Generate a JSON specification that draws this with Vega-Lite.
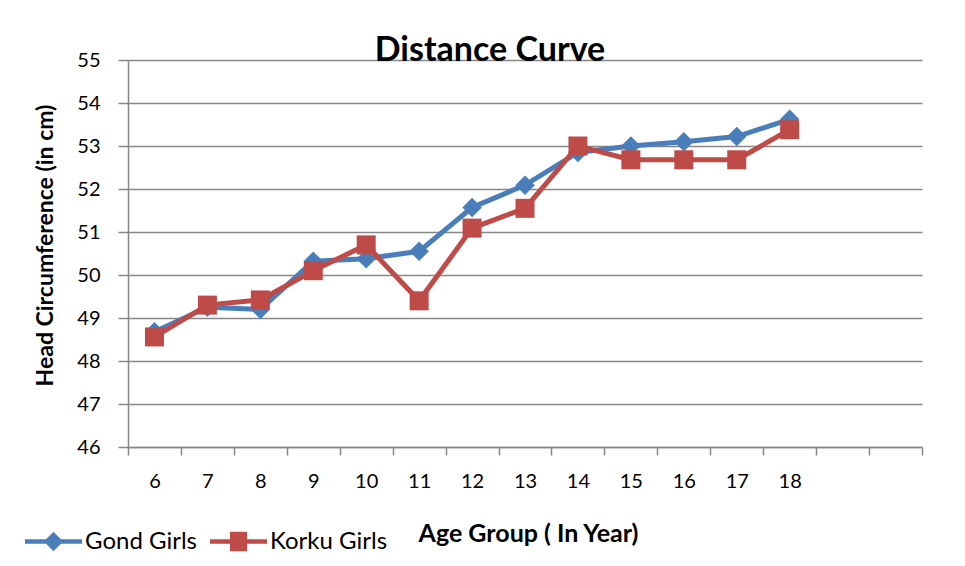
{
  "$schema": "https://vega.github.io/schema/vega-lite/v6.json",
  "autosize": "none",
  "width": 794,
  "height": 387,
  "padding": {"left": 128, "top": 60, "right": 43, "bottom": 119},
  "background": "white",
  "config": {
    "font": "Lato",
    "view": {"stroke": null},
    "axis": {"labelColor": "#000000", "titleColor": "#000000"}
  },
  "title": {
    "text": "Distance Curve",
    "font": "Lato",
    "fontSize": 34,
    "fontWeight": "bold",
    "color": "#000000",
    "anchor": "middle",
    "frame": "group",
    "dx": -35,
    "dy": 37,
    "baseline": "alphabetic",
    "offset": -8
  },
  "data": {
    "values": [
      {"age": 6, "series": "Gond Girls", "hc": 48.68},
      {"age": 7, "series": "Gond Girls", "hc": 49.25},
      {"age": 8, "series": "Gond Girls", "hc": 49.2},
      {"age": 9, "series": "Gond Girls", "hc": 50.32},
      {"age": 10, "series": "Gond Girls", "hc": 50.38},
      {"age": 11, "series": "Gond Girls", "hc": 50.55},
      {"age": 12, "series": "Gond Girls", "hc": 51.57},
      {"age": 13, "series": "Gond Girls", "hc": 52.09},
      {"age": 14, "series": "Gond Girls", "hc": 52.85},
      {"age": 15, "series": "Gond Girls", "hc": 53.0},
      {"age": 16, "series": "Gond Girls", "hc": 53.1},
      {"age": 17, "series": "Gond Girls", "hc": 53.22},
      {"age": 18, "series": "Gond Girls", "hc": 53.62},
      {"age": 6, "series": "Korku Girls", "hc": 48.56},
      {"age": 7, "series": "Korku Girls", "hc": 49.3},
      {"age": 8, "series": "Korku Girls", "hc": 49.42},
      {"age": 9, "series": "Korku Girls", "hc": 50.1},
      {"age": 10, "series": "Korku Girls", "hc": 50.7},
      {"age": 11, "series": "Korku Girls", "hc": 49.4},
      {"age": 12, "series": "Korku Girls", "hc": 51.09},
      {"age": 13, "series": "Korku Girls", "hc": 51.55},
      {"age": 14, "series": "Korku Girls", "hc": 53.0},
      {"age": 15, "series": "Korku Girls", "hc": 52.68},
      {"age": 16, "series": "Korku Girls", "hc": 52.68},
      {"age": 17, "series": "Korku Girls", "hc": 52.68},
      {"age": 18, "series": "Korku Girls", "hc": 53.38}
    ]
  },
  "encoding": {
    "x": {
      "field": "age",
      "type": "ordinal",
      "scale": {"type": "band", "domain": [6,7,8,9,10,11,12,13,14,15,16,17,18,19,20], "paddingInner": 0, "paddingOuter": 0},
      "axis": {
        "title": "Age Group ( In Year)",
        "titleFont": "Lato",
        "titleFontSize": 25,
        "titleFontWeight": "bold",
        "titleX": 400,
        "titleY": 86,
        "titleAlign": "center",
        "titleBaseline": "middle",
        "labelExpr": "datum.value > 18 ? '' : datum.label",
        "labelAngle": 0,
        "labelFont": "Lato",
        "labelFontSize": 20,
        "labelPadding": 16,
        "tickBand": "extent",
        "tickSize": 8,
        "tickColor": "#878787",
        "tickWidth": 1.5,
        "domainColor": "#878787",
        "domainWidth": 1.5,
        "grid": false
      }
    },
    "y": {
      "field": "hc",
      "type": "quantitative",
      "scale": {"domain": [46, 55], "nice": false, "zero": false},
      "axis": {
        "values": [46,47,48,49,50,51,52,53,54,55],
        "title": "Head Circumference (in cm)",
        "titleFont": "Lato",
        "titleFontSize": 23,
        "titleFontWeight": "bold",
        "titleAngle": -90,
        "titleX": -83,
        "titleY": 185,
        "titleAlign": "center",
        "titleBaseline": "middle",
        "labelFont": "Lato",
        "labelFontSize": 20,
        "labelPadding": 18,
        "tickSize": 10,
        "tickColor": "#878787",
        "tickWidth": 1.5,
        "domainColor": "#878787",
        "domainWidth": 1.5,
        "grid": true,
        "gridColor": "#878787",
        "gridWidth": 1.5
      }
    }
  },
  "layer": [
    {
      "transform": [{"filter": "datum.series === 'Gond Girls'"}],
      "mark": {"type": "line", "color": "#4A7EBB", "strokeWidth": 5},
      "encoding": {}
    },
    {
      "transform": [{"filter": "datum.series === 'Gond Girls'"}],
      "mark": {"type": "point", "shape": "diamond", "filled": true, "size": 380, "opacity": 1},
      "encoding": {
        "color": {
          "field": "series",
          "type": "nominal",
          "scale": {"domain": ["Gond Girls", "Korku Girls"], "range": ["#4A7EBB", "#BE4B48"]}
        }
      }
    },
    {
      "transform": [{"filter": "datum.series === 'Korku Girls'"}],
      "mark": {"type": "line", "color": "#BE4B48", "strokeWidth": 5},
      "encoding": {}
    },
    {
      "transform": [{"filter": "datum.series === 'Korku Girls'"}],
      "mark": {"type": "point", "shape": "square", "filled": true, "size": 361, "opacity": 1},
      "encoding": {
        "color": {
          "field": "series",
          "type": "nominal",
          "scale": {"domain": ["Gond Girls", "Korku Girls"], "range": ["#4A7EBB", "#BE4B48"]}
        }
      }
    },
    {
      "mark": {"type": "point", "filled": true, "size": 10, "opacity": 0},
      "encoding": {
        "color": {
          "field": "series",
          "type": "nominal",
          "scale": {"domain": ["Gond Girls", "Korku Girls"], "range": ["#4A7EBB", "#BE4B48"]},
          "legend": {
            "title": null,
            "orient": "none",
            "direction": "horizontal",
            "legendX": -103,
            "legendY": 453,
            "padding": 0,
            "gridAlign": "none",
            "columnPadding": 13,
            "symbolSize": 3249,
            "symbolOpacity": 1,
            "symbolStrokeWidth": 0,
            "labelOffset": 3,
            "labelFont": "Lato",
            "labelFontSize": 24,
            "labelColor": "#000000",
            "labelBaseline": "middle"
          }
        },
        "shape": {
          "field": "series",
          "type": "nominal",
          "scale": {"domain": ["Gond Girls", "Korku Girls"], "range": ["M-1,-0.075H1V0.075H-1Z M0,-0.34L0.34,0L0,0.34L-0.34,0Z", "M-1,-0.075H1V0.075H-1Z M-0.3,-0.34H0.3V0.34H-0.3Z"]},
          "legend": {
            "title": null,
            "orient": "none",
            "direction": "horizontal",
            "legendX": -103,
            "legendY": 453,
            "padding": 0,
            "gridAlign": "none",
            "columnPadding": 13,
            "symbolSize": 3249,
            "symbolOpacity": 1,
            "symbolStrokeWidth": 0,
            "labelOffset": 3,
            "labelFont": "Lato",
            "labelFontSize": 24,
            "labelColor": "#000000",
            "labelBaseline": "middle"
          }
        }
      }
    }
  ]
}
